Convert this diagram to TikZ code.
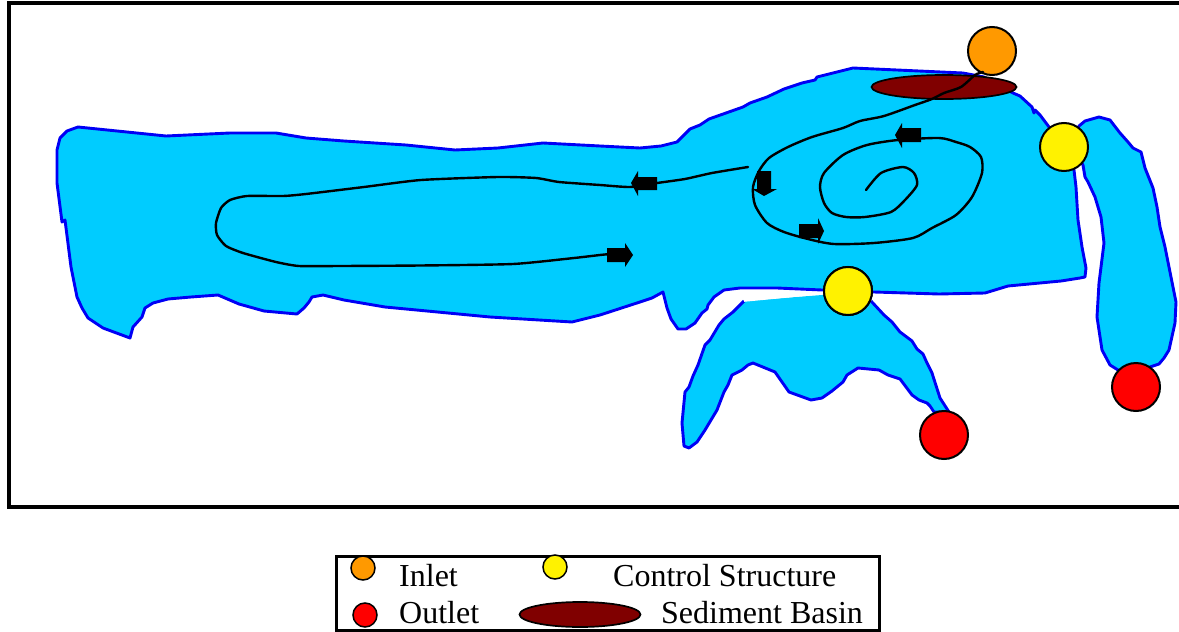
\documentclass[tikz,border=0pt]{standalone}
\usepackage{fontspec}
\setmainfont{Liberation Serif}
\usetikzlibrary{shapes.geometric}
\definecolor{water}{RGB}{0,204,255}
\definecolor{edgeblue}{RGB}{0,0,245}
\definecolor{inletc}{RGB}{255,153,0}
\definecolor{basinc}{RGB}{128,0,0}
\tikzset{
  pond/.style={fill=water,draw=edgeblue,line width=2.9pt,line join=round},
  flow/.style={draw=black,line width=2.4pt,line cap=round,line join=round},
  blockarrow/.style={fill=black,draw=none},
  site/.style={circle,draw=black,line width=2pt,minimum size=48pt,inner sep=0pt},
  key/.style={circle,draw=black,line width=1.5pt,minimum size=24pt,inner sep=0pt},
  basin/.style={ellipse,draw=black,line width=1.7pt,fill=basinc,inner sep=0pt},
  label/.style={anchor=base west,inner sep=0pt,font=\fontsize{32}{32}\selectfont},
}
\newcommand{\lowerEdge}{(871,301) -- (884,315) -- (892,322) -- (900,332) -- (912,341) -- (917,349) -- (923,354) -- (927,363) -- (932,373) -- (940,398) -- (949,412) -- (934,412) -- (930,406) -- (927,403) -- (919,400) -- (912,395) -- (900,379) -- (888,375) -- (879,370) -- (858,368) -- (847,375) -- (843,382) -- (832,391) -- (822,398) -- (811,400) -- (789,392) -- (775,372) -- (753,363) -- (748,365) -- (742,370) -- (732,375) -- (728,385) -- (724,392) -- (717,410) -- (705,430) -- (697,442) -- (689,448) -- (684,446) -- (682,423) -- (685,392) -- (689,387) -- (693,376) -- (698,365) -- (705,345) -- (710,340) -- (719,325) -- (724,319) -- (733,312) -- (744,301)}
\begin{document}
\begin{tikzpicture}[x=1pt,y=-1pt]
\useasboundingbox (0,0) rectangle (1179,632);
\clip (0,0) rectangle (1179,632);
\fill[white] (0,0) rectangle (1179,632);
% frame
\draw[line width=4pt] (1195,3) -- (8.5,3) -- (8.5,507) -- (1195,507);
% right branch
\draw[pond] (1079,126) -- (1085,121) -- (1099,117) -- (1110,120) -- (1120,133) -- (1128,142) -- (1133,148) -- (1141,152) -- (1145,168) -- (1153,188) -- (1157,207) -- (1160,227) -- (1165,247) -- (1175,297) -- (1176,302) -- (1175,323) -- (1169,350) -- (1164,358) -- (1159,364) -- (1150,367) -- (1136,375) -- (1118,370) -- (1110,365) -- (1102,350) -- (1097,317) -- (1099,283) -- (1104,243) -- (1101,217) -- (1095,197) -- (1088,182) -- (1085,177) -- (1083,165) -- (1070,145) -- cycle;
% lower branch
\fill[water] (848,291) -- \lowerEdge -- (822,295) -- cycle;
\draw[pond,fill=none] \lowerEdge;
% main body
\draw[pond] (78,127) -- (166,136) -- (230,133) -- (276,133) -- (306,138) -- (344,141) -- (406,145) -- (455,150) -- (498,148) -- (543,143) -- (600,146) -- (640,148) -- (661,146) -- (677,142) -- (690,129) -- (700,125) -- (709,119) -- (726,113) -- (743,107) -- (750,103) -- (767,97) -- (784,89) -- (802,83) -- (815,80) -- (817,77) -- (853,68) -- (963,73) -- (984,77) -- (1013,93) -- (1020,96) -- (1032,107) -- (1034,113) -- (1035,110) -- (1040,115) -- (1049,127) -- (1064,147) -- (1074,170) -- (1076,187) -- (1078,220) -- (1082,247) -- (1086,268) -- (1085,277) -- (1080,278) -- (1061,281) -- (1008,286) -- (985,293) -- (939,294) -- (874,292) -- (822,290) -- (777,288) -- (740,288) -- (724,290) -- (714,297) -- (708,305) -- (707,309) -- (702,313) -- (695,323) -- (686,329) -- (678,329) -- (671,319) -- (667,308) -- (663,292) -- (652,298) -- (640,302) -- (600,315) -- (572,322) -- (490,317) -- (385,307) -- (344,300) -- (323,295) -- (312,297) -- (309,302) -- (304,308) -- (297,314) -- (264,311) -- (239,304) -- (218,295) -- (191,297) -- (168,299) -- (153,303) -- (145,308) -- (142,317) -- (133,327) -- (130,338) -- (103,328) -- (88,318) -- (82,308) -- (77,297) -- (71,267) -- (65,220) -- (62,222) -- (57,183) -- (57,150) -- (60,138) -- (67,131) -- cycle;
% sites
\node[basin,minimum width=145pt,minimum height=24pt] (sed) at (944,87) {};
\node[site,fill=inletc] (inlet) at (992,51) {};
\node[site,fill=yellow] (ctrlA) at (1064,147) {};
\node[site,fill=yellow] (ctrlB) at (848,291) {};
\node[site,fill=red] (outA) at (944,435) {};
\node[site,fill=red] (outB) at (1136,387) {};
\coordinate (gapEnd) at (744,301);
\draw[white,line width=1.6pt] (gapEnd) -- (ctrlB);
\node[site,fill=yellow] at (ctrlB) {};
% flow line
\draw[flow] plot[smooth,tension=0.45] coordinates {(983,72) (975,75) (961,87) (944,93) (932,99) (915,105) (884,116) (860,121) (843,128) (812,137) (788,147) (769,158) (759,171) (753,187) (755,205) (767,223) (784,232) (808,239) (834,244) (874,243) (913,238) (932,228) (956,215) (972,197) (982,173) (981,157) (970,147) (956,142) (939,138) (898,140) (867,145) (843,155) (824,173) (820,187) (824,203) (832,213) (846,217) (865,217) (891,212) (905,200) (917,185) (914,173) (903,167) (881,173) (866,190)};
\draw[flow] plot[smooth,tension=0.35] coordinates {(748,167) (712,173) (685,179) (657,183) (630,187) (600,185) (559,182) (536,178) (498,177) (421,180) (364,187) (306,194) (283,196) (247,196) (230,200) (221,208) (216,223) (217,235) (226,246) (243,253) (276,262) (299,266) (340,266) (420,265.5) (513,264) (574,258) (600,255) (610,254)};
% block arrows
\fill[blockarrow] (657,177) -- (638,177) -- (638,171) -- (631,183) -- (638,196) -- (638,190) -- (657,190) -- cycle;
\fill[blockarrow] (607,248) -- (625,248) -- (625,243) -- (633,255) -- (625,267) -- (625,262) -- (607,262) -- cycle;
\fill[blockarrow] (757,171) -- (771,171) -- (771,189) -- (777,189) -- (764,196) -- (752,189) -- (757,189) -- cycle;
\fill[blockarrow] (799,224) -- (818,224) -- (818,218) -- (824,231) -- (818,244) -- (818,238) -- (799,238) -- cycle;
\fill[blockarrow] (921,128) -- (902,128) -- (902,123) -- (895,135) -- (902,148) -- (902,142) -- (921,142) -- cycle;
% legend
\draw[line width=3pt,fill=white] (336,556) rectangle (879,630.5);
\node[key,fill=inletc] (kInlet) at (363,568) {};
\node[key,fill=yellow] (kCtrl) at (555,567) {};
\node[key,fill=red] (kOut) at (365,615) {};
\node[basin,minimum width=121pt,minimum height=25pt] (kSed) at (580,614.5) {};
\node[label] (tInlet) at (399,586) {Inlet};
\node[label] (tCtrl) at (613,586) {Control Structure};
\node[label] (tOut) at (399,623) {Outlet};
\node[label] (tSed) at (661,623) {Sediment Basin};
\end{tikzpicture}
\end{document}
